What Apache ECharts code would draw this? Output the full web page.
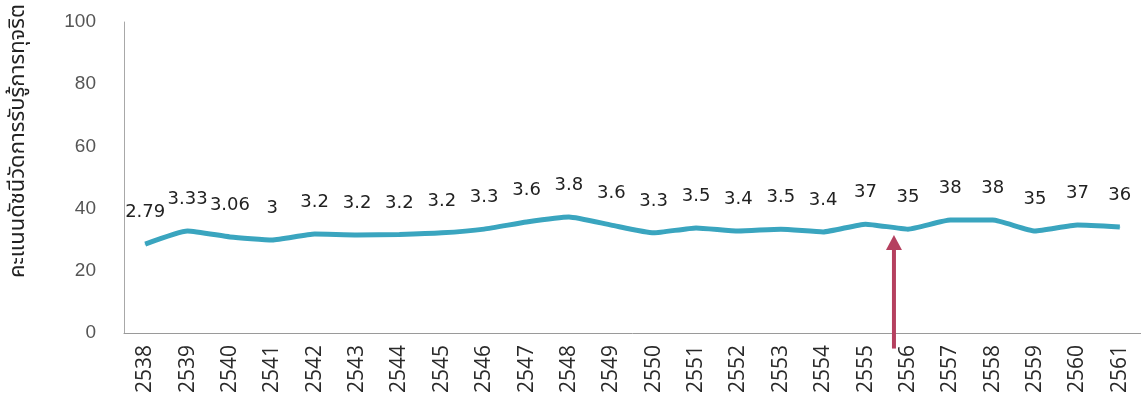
<!DOCTYPE html>
<html>
<head>
<meta charset="utf-8">
<script src="https://cdn.jsdelivr.net/npm/echarts@6/dist/echarts.min.js"></script>
<style>
html,body{margin:0;padding:0;background:#fff;}
#chart{width:1141px;height:403px;}
</style>
</head>
<body>
<div id="chart"></div>
<script>
// Years (Thai Buddhist era)
const years = ['2538','2539','2540','2541','2542','2543','2544','2545','2546','2547','2548','2549','2550','2551','2552','2553','2554','2555','2556','2557','2558','2559','2560','2561'];
// Line heights
const scores = [28.6,32.8,30.9,29.9,31.8,31.5,31.7,32.2,33.4,35.7,37.3,34.7,32.2,33.8,32.8,33.4,32.5,35.0,33.4,36.3,36.3,32.8,34.7,34.1];
// Point labels as printed
const pointLabels = ['2.79','3.33','3.06','3','3.2','3.2','3.2','3.2','3.3','3.6','3.8','3.6','3.3','3.5','3.4','3.5','3.4','37','35','38','38','35','37','36'];
const yTitle = 'คะแนนดัชนีวัดการรับรู้การทุจริต';

const titleFont = '22px "Noto Sans Thai", "Noto Sans", sans-serif';

const chart = echarts.init(document.getElementById('chart'));
chart.setOption({
  animation: false,
  backgroundColor: '#fff',
  grid: { left: 124, right: 0, top: 22, bottom: 70 },
  xAxis: {
    type: 'category',
    data: years,
    boundaryGap: true,
    axisLine: { show: true, lineStyle: { color: '#9a9a9a', width: 1 } },
    axisTick: { show: false },
    axisLabel: { rotate: 90, margin: 12, color: '#2a2a2a', fontSize: 21, fontFamily: 'Open Sans, sans-serif', interval: 0 }
  },
  yAxis: {
    type: 'value',
    min: 0, max: 100, interval: 20,
    axisLine: { show: true, lineStyle: { color: '#a8a8a8', width: 1 } },
    axisTick: { show: false },
    splitLine: { show: false },
    axisLabel: { margin: 28, color: '#555', fontSize: 19, fontFamily: 'Liberation Sans, sans-serif' }
  },
  series: [{
    type: 'line',
    data: scores,
    smooth: 0.15,
    symbol: 'circle',
    symbolSize: 1,
    itemStyle: { color: '#3aa5bf' },
    lineStyle: { color: '#3aa5bf', width: 5 },
    label: {
      show: true,
      position: 'top',
      distance: 22,
      color: '#222',
      fontSize: 18,
      fontFamily: 'DejaVu Sans, sans-serif',
      formatter: p => pointLabels[p.dataIndex]
    }
  }]
});

// Red arrow annotation between 2555 and 2556, placed through the chart's scales
const p0 = chart.convertToPixel({ gridIndex: 0 }, [17, 31.5]);
const p1 = chart.convertToPixel({ gridIndex: 0 }, [18, -5]);
const ax = p0[0] + (p1[0] - p0[0]) * 0.67;
const tipY = p0[1];
const baseY = p1[1];
chart.setOption({
  graphic: [{
    type: 'text',
    left: 9,
    top: 4,
    rotation: Math.PI / 2,
    style: { text: yTitle, fill: '#222', font: titleFont }
  }, {
    type: 'line',
    shape: { x1: ax, y1: baseY, x2: ax, y2: tipY + 12 },
    style: { stroke: '#b5405f', lineWidth: 4 },
    z: 10
  }, {
    type: 'polygon',
    shape: { points: [[ax, tipY], [ax - 8, tipY + 15], [ax + 8, tipY + 15]] },
    style: { fill: '#b5405f' },
    z: 10
  }]
});
</script>
</body>
</html>
